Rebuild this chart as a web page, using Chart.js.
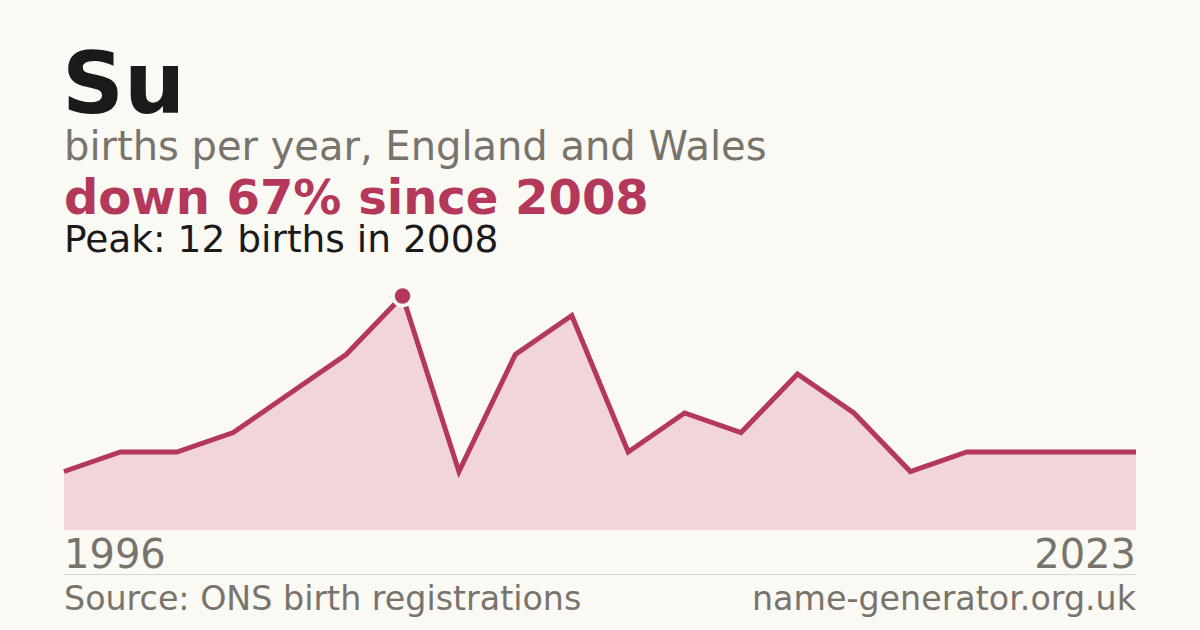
<!DOCTYPE html>
<html>
<head>
<meta charset="utf-8">
<script src="https://cdn.jsdelivr.net/npm/chart.js@4/dist/chart.umd.min.js"></script>
<style>
    html, body {
        margin: 0;
        padding: 0;
        background: #faf9f4;
    }
    body {
        width: 1200px;
        height: 630px;
        position: relative;
        overflow: hidden;
        font-family: "DejaVu Sans", sans-serif;
    }
    .txt {
        position: absolute;
        line-height: 1;
        white-space: nowrap;
    }
    #title { left: 62px; top: 40px; font-size: 86px; font-weight: bold; color: #1a1a1a; }
    #subtitle { left: 64px; top: 126px; font-size: 40px; color: #78746c; }
    #change { left: 64px; top: 173px; font-size: 48px; font-weight: bold; color: #b3385a; }
    #peak { left: 64px; top: 221px; font-size: 37.5px; color: #1a1a1a; }
    #firstYear { left: 64px; top: 534px; font-size: 40px; color: #78746c; }
    #lastYear { right: 64px; top: 534px; font-size: 40px; color: #78746c; }
    #source { left: 64px; top: 582px; font-size: 33.3px; color: #78746c; }
    #site { right: 64px; top: 582px; font-size: 33.3px; color: #78746c; }
    #rule {
        position: absolute;
        left: 64px;
        width: 1072px;
        top: 574px;
        height: 1px;
        background: #ddd8cf;
    }
    #wrap {
        position: absolute;
        left: 44px;
        top: 276px;
        width: 1112px;
        height: 264px;
    }
</style>
</head>
<body>
<div id="title" class="txt">Su</div>
<div id="subtitle" class="txt">births per year, England and Wales</div>
<div id="change" class="txt"></div>
<div id="peak" class="txt"></div>
<div id="firstYear" class="txt"></div>
<div id="lastYear" class="txt"></div>
<div id="rule"></div>
<div id="source" class="txt">Source: ONS birth registrations</div>
<div id="site" class="txt">name-generator.org.uk</div>
<div id="wrap"><canvas id="births"></canvas></div>

<script>
// years with registrations (only the ends are labelled on the chart)
const years = [1996, 1998, 2000, 2002, 2004, 2006, 2008, 2009, 2010, 2011,
               2012, 2013, 2014, 2015, 2016, 2017, 2018, 2019, 2021, 2023];
const births = [3, 4, 4, 5, 7, 9, 12, 3, 9, 11,
                4, 6, 5, 8, 6, 3, 4, 4, 4, 4];

const peakValue = Math.max(...births);
const peakIndex = births.indexOf(peakValue);
const peakYear = years[peakIndex];
const lastValue = births[births.length - 1];
const drop = Math.round((1 - lastValue / peakValue) * 100);

document.getElementById('change').textContent = 'down ' + drop + '% since ' + peakYear;
document.getElementById('peak').textContent = 'Peak: ' + peakValue + ' births in ' + peakYear;
document.getElementById('firstYear').textContent = years[0];
document.getElementById('lastYear').textContent = years[years.length - 1];

const lineColor = '#b3385a';
const bg = '#faf9f4';

new Chart(document.getElementById('births'), {
    type: 'line',
    data: {
        labels: years,
        datasets: [{
            data: births,
            borderColor: lineColor,
            borderWidth: 5,
            backgroundColor: '#f2d5da',
            fill: 'origin',
            tension: 0,
            pointRadius: births.map((v, i) => i === peakIndex ? 9.5 : 0),
            pointBorderWidth: 3.5,
            pointBackgroundColor: lineColor,
            pointBorderColor: bg,
            clip: false
        }]
    },
    options: {
        responsive: true,
        maintainAspectRatio: false,
        animation: false,
        layout: { padding: { left: 20, right: 20, top: 20, bottom: 10 } },
        plugins: {
            legend: { display: false },
            tooltip: { enabled: false }
        },
        scales: {
            x: { display: false, offset: false },
            y: { display: false, min: 0, max: 12 }
        }
    }
});
</script>
</body>
</html>
